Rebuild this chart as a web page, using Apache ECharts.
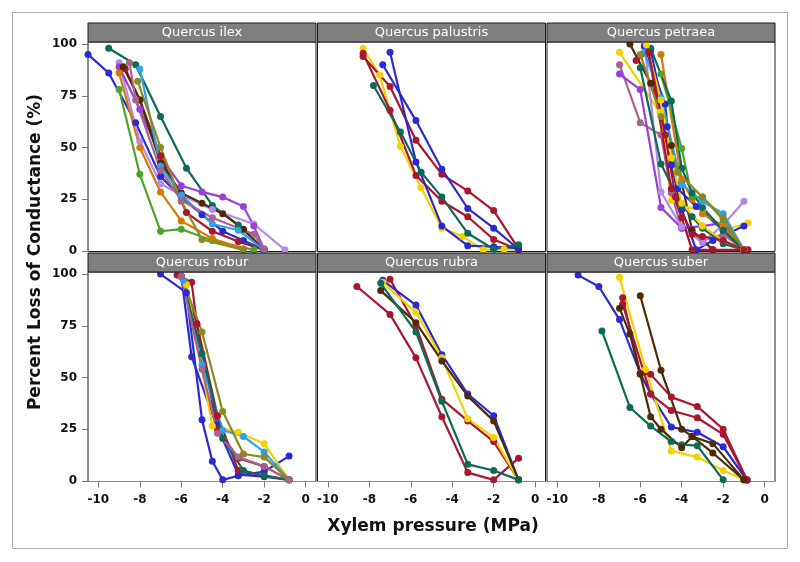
<!DOCTYPE html>
<html><head><meta charset="utf-8">
<script src="https://cdn.jsdelivr.net/npm/echarts@6/dist/echarts.min.js"></script>
<style>html,body{margin:0;padding:0;background:#fff}#c{width:800px;height:562px}</style>
</head><body><div id="c"></div>
<script>
const species = ['Quercus ilex','Quercus palustris','Quercus petraea','Quercus robur','Quercus rubra','Quercus suber'];
const xTicks = [-10,-8,-6,-4,-2,0];
const yTicks = [0,25,50,75,100];

// Quercus ilex
const ilexSeries = [
  [[-10.5,95],[-9.5,86],[-8.2,62],[-7,36],[-6,26],[-5,17.5],[-4,9.5],[-3,5],[-2,0.5]],
  [[-9.5,98],[-8.2,90],[-7,65],[-5.75,40],[-4.5,22],[-3.25,12.5],[-2,0.5]],
  [[-9,78],[-8,37],[-7,9.5],[-6,10.5],[-4.5,5],[-2.5,0.5]],
  [[-9,86],[-8,50],[-7,28.5],[-6,14.5],[-4.5,6],[-3,1]],
  [[-9,91],[-8,53],[-7,32.5],[-6,27],[-4.5,20],[-2.5,13],[-1,0.5]],
  [[-9,89],[-8,68.5],[-7,45.5],[-6,31.5],[-5,28.5],[-4,26],[-3,21.5],[-2.5,12],[-2,0.5]],
  [[-8.7,88],[-8,73],[-7,46],[-5.75,18.5],[-4.5,9.5],[-3.25,4.5],[-2,0.5]],
  [[-8.8,89],[-8,73],[-7,42.5],[-6,28],[-5,23],[-4,18],[-3,10.5],[-2,0.5]],
  [[-8,88],[-7,41],[-6,27],[-4.5,13],[-3.25,10],[-2,0.5]],
  [[-8.1,82],[-7,50],[-6,24],[-5,5.5],[-3,0.5]],
  [[-8.5,91],[-8.2,73],[-7,39],[-6,24.5],[-4.5,16],[-2.5,8],[-2,1]]
];
const ilexColors = ['blue','teal','green','orange','lavender','purple','darkred','brown','lightblue','olive','mauve'];

// Quercus palustris
const palustrisSeries = [
  [[-8.3,98],[-7.5,85],[-6.5,50.5],[-5.5,30.5],[-4.5,11],[-3.5,7],[-2.5,0.5],[-1.5,0.8],[-0.8,0.5]],
  [[-8.3,95.5],[-7,68],[-5.75,36.5],[-4.5,24],[-3.25,16.5],[-2,5.5],[-0.8,0.5]],
  [[-8.3,94],[-7,79.5],[-5.75,53.5],[-4.5,37],[-3.25,29],[-2,19.5],[-0.8,1]],
  [[-7,96],[-5.75,43],[-4.5,12],[-3.25,2.5],[-2,2],[-0.8,1.3]],
  [[-7.35,90],[-5.75,63],[-4.5,39.5],[-3.25,20.5],[-2,11],[-0.8,0.8]],
  [[-7.8,80],[-6.5,57.5],[-5.5,38],[-4.5,26],[-3.25,8.5],[-2,0.8],[-0.8,3]]
];
const palustrisColors = ['yellow','darkred','darkred','blue','blue','teal'];

// Quercus petraea
const petraeaSeries = [
  [[-6.5,100],[-5.5,81],[-4.5,51],[-4,33],[-3.5,10],[-2.5,0.5]],
  [[-7,96],[-5.05,67],[-4.5,24.5],[-4,21.5],[-3,20],[-2,10],[-0.8,13.5]],
  [[-7,90],[-6,62],[-5,56],[-4.5,28],[-4,11],[-3,5],[-2,8],[-1,0.5]],
  [[-7,85.5],[-6,78],[-5,21],[-4,11],[-3,12],[-2,13.5],[-1,0.5]],
  [[-5.8,100],[-5,28.5],[-4,11.5],[-3,4],[-2,12.5],[-1,24]],
  [[-5.8,99],[-4.8,71],[-4.5,41.5],[-4,20],[-3.3,0.5],[-2.5,5],[-1,12]],
  [[-5.5,97],[-4.7,60],[-4.2,30],[-3.3,21.5],[-2,10],[-1,0.5]],
  [[-5,95],[-4,34.5],[-3.5,25],[-3,18],[-2,12],[-1,0.5]],
  [[-5,85.5],[-4,49.5],[-3.5,26],[-3,26],[-2,15],[-1,0.5]],
  [[-5.5,98],[-4.5,72.5],[-4,40],[-3.5,28],[-3,21],[-2,10],[-1,0.5]],
  [[-6,88.5],[-5,42],[-4,22],[-3.5,16.5],[-3,11],[-2,3.5],[-1,0.5]],
  [[-6.2,92],[-5.6,96],[-4.5,30],[-4,16],[-3.5,0.5],[-2.5,0.5],[-0.8,0.5]],
  [[-5.8,96],[-5,74],[-4,32],[-3,24],[-2,18],[-1,0.5]],
  [[-6,95],[-5,65],[-4.2,38],[-3,26],[-2,16],[-1,0.5]],
  [[-5.7,99.5],[-5,73],[-4.5,45],[-4,23],[-3,12],[-2,5],[-1,0.5]],
  [[-5.6,96],[-4.8,56],[-4.3,26],[-3.5,8],[-3,7],[-2,5],[-1,0.5]]
];
const petraeaColors = ['brown','yellow','mauve','purple','lavender','blue','blue','orange','green','teal','teal','darkred','lightblue','olive','yellow','darkred'];

// Quercus robur
const roburSeries = [
  [[-7,100],[-5.75,91],[-5,29.5],[-4.5,9.5],[-4,0.5],[-3.25,2.5],[-2,4.5],[-0.8,12]],
  [[-6,99],[-5.5,60],[-4.3,27],[-3.25,3],[-2,2],[-0.8,0.5]],
  [[-6.2,99.5],[-5.5,96],[-5.25,76],[-4.25,31.5],[-3.25,5],[-2,2.5],[-0.8,0.5]],
  [[-6,99],[-5.25,76],[-4.25,25],[-3.25,11],[-2,7],[-0.8,0.5]],
  [[-5.75,95],[-4.5,26.5],[-3.25,23.5],[-2,18],[-0.8,0.5]],
  [[-5.9,97],[-5,56],[-4,24.5],[-3,21.5],[-2,14],[-0.8,0.5]],
  [[-6,99],[-5,72],[-4,33.5],[-3,13],[-2,11.5],[-0.8,0.5]],
  [[-6,99],[-5,61.5],[-4,20.5],[-3,5],[-2,2.5],[-0.8,0.5]],
  [[-6,99],[-5,54],[-4.25,23],[-3.25,11.5],[-2,7],[-0.8,0.5]]
];
const roburColors = ['blue','blue','darkred','darkred','yellow','lightblue','olive','teal','mauve'];

// Quercus rubra
const rubraSeries = [
  [[-8.6,94],[-7,80.5],[-5.75,59.5],[-4.5,31],[-3.25,4],[-2,0.5],[-0.8,11]],
  [[-7,97.5],[-5.75,75],[-4.5,39.5],[-3.25,29],[-2,19],[-0.8,0.5]],
  [[-7.35,97],[-5.75,85],[-4.5,61],[-3.25,42],[-2,31.5],[-0.8,0.5]],
  [[-7.35,96],[-5.75,81.5],[-4.5,59.5],[-3.25,30],[-2,21],[-0.8,0.5]],
  [[-7.45,92],[-5.75,76.5],[-4.5,58],[-3.25,41],[-2,29],[-0.8,0.5]],
  [[-7.45,95.5],[-5.75,72],[-4.5,38.5],[-3.25,8],[-2,5],[-0.8,0.5]]
];
const rubraColors = ['darkred','darkred','blue','yellow','brown','teal'];

// Quercus suber
const suberSeries = [
  [[-9,99.5],[-8,94],[-7,78],[-6,52],[-5.5,42],[-4.5,26],[-3.25,23.5],[-2,16.5],[-0.85,0.3]],
  [[-7,98.5],[-5.75,54],[-4.5,14.5],[-3.25,11.5],[-2,5],[-1,0.5]],
  [[-7.85,72.5],[-6.5,35.5],[-5.5,26.5],[-4.5,19],[-4,17.5],[-3.25,17],[-2,0.5]],
  [[-6.85,88.5],[-6,52],[-5.5,51.5],[-4.5,40.5],[-3.25,36],[-2,25],[-0.85,0.5]],
  [[-6.85,85.5],[-5.5,42],[-4.5,34],[-3.25,30.5],[-2,22.5],[-0.85,0.5]],
  [[-7,83.5],[-6.5,71],[-6,51.5],[-5.5,31],[-5,25],[-4,16],[-3.5,21.5],[-2.5,18],[-1,0.5]],
  [[-6,89.5],[-5,53.5],[-4,25],[-3.5,21.5],[-2.5,13.5],[-1,0.5]]
];
const suberColors = ['blue','yellow','teal','darkred','darkred','brown','brown'];

const palette = {
  blue:'#2a2ad0', teal:'#0c6b58', darkred:'#a8172f', yellow:'#f2d200', brown:'#4d2b05',
  lightblue:'#2ca2e8', mauve:'#a8628c', olive:'#8a8a20', orange:'#d67b00', green:'#4ca42c',
  purple:'#9a40d4', lavender:'#b48ae8'
};

const panelSeries = [ilexSeries, palustrisSeries, petraeaSeries, roburSeries, rubraSeries, suberSeries];
const panelColors = [ilexColors, palustrisColors, petraeaColors, roburColors, rubraColors, suberColors];

const colLeft = [88, 317.5, 547];
const colW = 228;
const rowTop = [42, 272];
const rowH = 209.5;
const stripH = 19;
const fontFam = 'DejaVu Sans';

const grids = [], xAxes = [], yAxes = [], series = [], graphics = [];
for (let p = 0; p < 6; p++) {
  const col = p % 3, row = Math.floor(p / 3);
  grids.push({left: colLeft[col], top: rowTop[row], width: colW, height: rowH,
    show: true, borderColor: '#1a1a1a', borderWidth: 1, backgroundColor: '#fff'});
  const showX = row === 1;
  xAxes.push({type: 'value', gridIndex: p, min: -10.5, max: 0.5, position: 'bottom', show: showX,
    splitLine: {show: false}, axisLine: {show: true, onZero: false, lineStyle: {color: '#8a8a8a', width: 1}},
    axisTick: {show: true, length: 6, customValues: xTicks, lineStyle: {color: '#777'}},
    axisLabel: {show: true, customValues: xTicks, margin: 12, color: '#111', fontSize: 12, fontWeight: 'bold', fontFamily: fontFam}
  });
  const showY = col === 0;
  yAxes.push({type: 'value', gridIndex: p, min: -0.3, max: 101, position: 'left', show: showY,
    splitLine: {show: false}, axisLine: {show: true, onZero: false, lineStyle: {color: '#8a8a8a', width: 1}},
    axisTick: {show: true, length: 6, customValues: yTicks, lineStyle: {color: '#777'}},
    axisLabel: {show: true, customValues: yTicks, margin: 11, color: '#111', fontSize: 12, fontWeight: 'bold', fontFamily: fontFam}
  });
  panelSeries[p].forEach((pts, i) => {
    const c = palette[panelColors[p][i]];
    series.push({type: 'line', xAxisIndex: p, yAxisIndex: p, data: pts, symbol: 'circle', symbolSize: 7,
      lineStyle: {width: 2.2, color: c}, itemStyle: {color: c}, animation: false, clip: false, silent: true});
  });
  graphics.push({type: 'rect', shape: {x: colLeft[col], y: rowTop[row] - stripH, width: colW, height: stripH},
    style: {fill: '#7f7f7f', stroke: '#1a1a1a', lineWidth: 1}, z: 10});
  graphics.push({type: 'text', x: colLeft[col] + colW / 2, y: rowTop[row] - stripH / 2,
    style: {text: species[p], fill: '#fff', font: '13px "' + fontFam + '"', textAlign: 'center', textVerticalAlign: 'middle'}, z: 11});
}
graphics.push({type: 'rect', shape: {x: 12.5, y: 12.5, width: 775, height: 536}, style: {fill: 'none', stroke: '#aaa', lineWidth: 1}, z: 0});
graphics.push({type: 'text', x: 433, y: 527, style: {text: 'Xylem pressure (MPa)', fill: '#111', font: 'bold 17px "' + fontFam + '"', textAlign: 'center', textVerticalAlign: 'middle'}, z: 11});
graphics.push({type: 'text', x: 36, y: 252, rotation: Math.PI / 2, style: {text: 'Percent Loss of Conductance (%)', fill: '#111', font: 'bold 17px "' + fontFam + '"', textAlign: 'center', textVerticalAlign: 'middle'}, z: 11});

const chart = echarts.init(document.getElementById('c'), null, {renderer: 'canvas'});
chart.setOption({animation: false, grid: grids, xAxis: xAxes, yAxis: yAxes, series: series, graphic: graphics});
</script></body></html>
